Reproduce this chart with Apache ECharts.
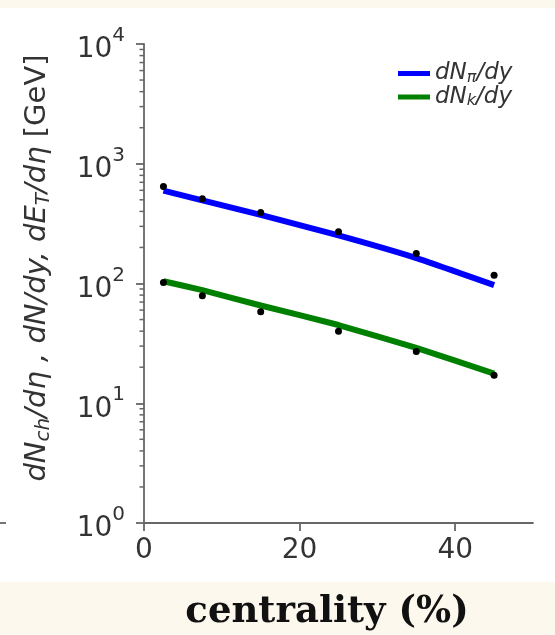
<!DOCTYPE html>
<html><head><meta charset="utf-8">
<script src="https://cdn.jsdelivr.net/npm/echarts@6/dist/echarts.min.js"></script>
<style>html,body{margin:0;padding:0;background:#fff}#c{width:555px;height:635px}</style>
</head><body><div id="c"></div>
<script>
// ---- data ----
const centrality = [2.5, 7.5, 15, 25, 35, 45];
const piData = [647, 511, 391, 271, 178, 117];
const kData = [102, 79, 58, 40, 27, 17.1];
const piFit = [596, 495, 374, 252, 163, 97];
const kFit = [104.5, 88, 65.5, 45, 29, 17.7];
const xTicks = [0, 20, 40];
const yTicks = [1, 10, 100, 1000, 10000];
const minorMultipliers = [2, 3, 4, 5, 6, 7, 8, 9];
const seriesNames = ['dNπ/dy', 'dNk/dy'];
const xTitle = 'centrality (%)';

const minorVals = [];
yTicks.slice(0, -1).forEach(d => minorMultipliers.forEach(m => minorVals.push(d * m)));

const AX = '#666';
const TXT = '#333';
const F = 'DejaVu Sans';

const chart = echarts.init(document.getElementById('c'), null, {renderer: 'canvas'});
chart.setOption({
  backgroundColor: '#ffffff',
  animation: false,
  grid: {left: 144, right: 22, top: 44, bottom: 112},
  legend: {
    data: seriesNames,
    orient: 'vertical',
    left: 393, top: 57,
    icon: 'rect', itemWidth: 32, itemHeight: 5, itemGap: 0,
    selectedMode: false,
    formatter: n => n === seriesNames[0] ? '{i|dN}{s|π}{i|/dy}' : '{i|dN}{s|k}{i|/dy}',
    textStyle: {
      rich: {
        i: {fontFamily: F, fontStyle: 'italic', fontSize: 23, color: TXT, lineHeight: 24},
        s: {fontFamily: F, fontStyle: 'italic', fontSize: 16, color: TXT, verticalAlign: 'bottom', padding: [6, 0, 0, 0]}
      }
    }
  },
  xAxis: {
    type: 'value', min: 0, max: 50, interval: 20,
    splitLine: {show: false},
    axisLine: {lineStyle: {color: AX, width: 1.8}},
    axisTick: {length: 8, lineStyle: {color: AX, width: 1.8}, customValues: xTicks},
    axisLabel: {fontFamily: F, fontSize: 28, color: TXT, margin: 14, customValues: xTicks}
  },
  yAxis: {
    type: 'log', logBase: 10, min: 1, max: 10000,
    splitLine: {show: false},
    axisLine: {lineStyle: {color: AX, width: 1.8}},
    axisTick: {length: 8, lineStyle: {color: AX, width: 1.8}, customValues: yTicks},
    axisLabel: {
      customValues: yTicks,
      margin: 19,
      formatter: v => '{b|10}{s|' + Math.round(Math.log10(v)) + '}',
      rich: {
        b: {fontFamily: F, fontSize: 28, color: TXT, padding: [12, 0, 0, 0]},
        s: {fontFamily: F, fontSize: 20, color: TXT, verticalAlign: 'top', padding: [2, 0, 0, 0]}
      }
    }
  },
  graphic: [
    {type: 'rect', z: -10, shape: {x: 0, y: 0, width: 555, height: 8}, style: {fill: '#fdf8ed'}},
    {type: 'rect', z: -10, shape: {x: 0, y: 582, width: 555, height: 53}, style: {fill: '#fdf8ed'}},
    {type: 'line', shape: {x1: 0, y1: 523, x2: 6, y2: 523}, style: {stroke: AX, lineWidth: 1.8}},
    {type: 'text', x: 327, y: 612, z: 10,
      style: {text: xTitle, fontFamily: 'DejaVu Serif', fontWeight: 'bold', fontSize: 37, fill: '#111', align: 'center', verticalAlign: 'middle'}},
    {type: 'text', x: 37, y: 268, rotation: Math.PI / 2, z: 10,
      style: {
        text: '{i|dN}{u|ch}{i|/dη , dN/dy, dE}{u|T}{i|/dη }{r|[GeV]}',
        align: 'center', verticalAlign: 'middle',
        rich: {
          i: {fontFamily: F, fontStyle: 'italic', fontSize: 29, fill: TXT, lineHeight: 34},
          u: {fontFamily: F, fontStyle: 'italic', fontSize: 20, fill: TXT, verticalAlign: 'bottom', padding: [8, 0, 0, 0]},
          r: {fontFamily: F, fontSize: 29, fill: TXT, lineHeight: 34}
        }
      }}
  ],
  series: [
    {name: seriesNames[0], type: 'line', data: centrality.map((c, i) => [c, piFit[i]]),
      symbol: 'none', smooth: 0.15, lineStyle: {color: '#0000ff', width: 6}, itemStyle: {color: '#0000ff'}, z: 2},
    {name: seriesNames[1], type: 'line', data: centrality.map((c, i) => [c, kFit[i]]),
      symbol: 'none', smooth: 0.15, lineStyle: {color: '#008000', width: 6}, itemStyle: {color: '#008000'}, z: 2},
    {name: 'pi data', type: 'scatter', data: centrality.map((c, i) => [c, piData[i]]),
      symbolSize: 7, itemStyle: {color: '#000', opacity: 1}, z: 3},
    {name: 'k data', type: 'scatter', data: centrality.map((c, i) => [c, kData[i]]),
      symbolSize: 7, itemStyle: {color: '#000', opacity: 1}, z: 3},
    {name: 'minor', type: 'custom', silent: true, clip: false,
      data: minorVals.map(v => [0, v]),
      renderItem: (params, api) => {
        const p = api.coord([0, api.value(1)]);
        return {type: 'line', shape: {x1: p[0] - 4.5, y1: p[1], x2: p[0], y2: p[1]}, style: {stroke: AX, lineWidth: 1.5}};
      }}
  ]
});
</script></body></html>
